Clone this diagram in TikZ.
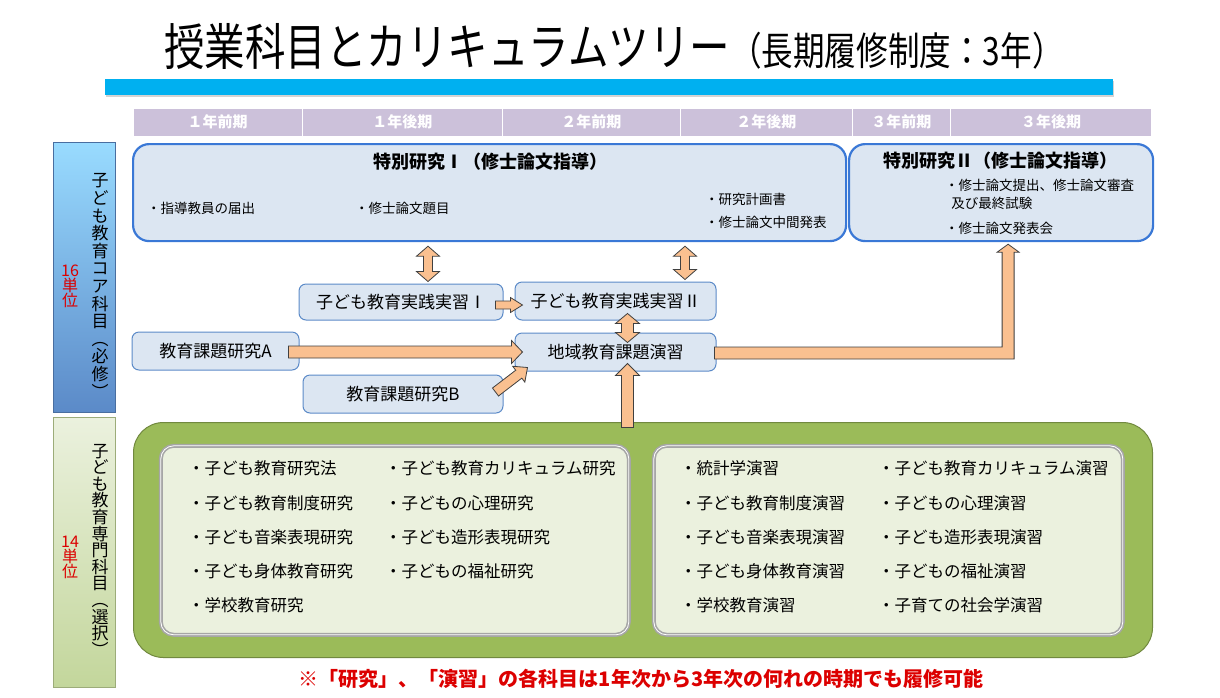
\documentclass[tikz,border=0pt]{standalone}
\usepackage{fontspec}
\usepackage{graphicx}
\setmainfont{Noto Sans CJK JP}
\usetikzlibrary{calc, shadows}

\definecolor{headfill}{HTML}{CCC1DA}
\definecolor{barblue}{HTML}{00B0F0}
\definecolor{boxfill}{HTML}{DCE6F2}
\definecolor{topline}{HTML}{3A78D6}
\definecolor{midline}{HTML}{5B8AC8}
\definecolor{arrowfill}{HTML}{FAC090}
\definecolor{greenfill}{HTML}{9BBB59}
\definecolor{greenline}{HTML}{71893F}
\definecolor{innerfill}{HTML}{EBF1DE}
\definecolor{innerline}{HTML}{A6A6A6}
\definecolor{notered}{HTML}{DC0000}

% fat block arrow: start, end, shaft half width, head half width, head length
\newcommand{\fatarrow}[5]{%
  \path #1 coordinate (fa_s) #2 coordinate (fa_e);
  \coordinate (fa_b) at ($(fa_e)!#5!(fa_s)$);
  \draw[fat] ($(fa_s)!#3!90:(fa_e)$) -- ($(fa_b)!#3!-90:(fa_s)$) -- ($(fa_b)!#4!-90:(fa_s)$)
    -- (fa_e) -- ($(fa_b)!#4!90:(fa_s)$) -- ($(fa_b)!#3!90:(fa_s)$) -- ($(fa_s)!#3!-90:(fa_e)$) -- cycle;
}
% same with a head at both ends
\newcommand{\fatdarrow}[5]{%
  \path #1 coordinate (fa_s) #2 coordinate (fa_e);
  \coordinate (fa_b) at ($(fa_e)!#5!(fa_s)$);
  \coordinate (fa_a) at ($(fa_s)!#5!(fa_e)$);
  \draw[fat] (fa_s) -- ($(fa_a)!#4!90:(fa_e)$) -- ($(fa_a)!#3!90:(fa_e)$) -- ($(fa_b)!#3!-90:(fa_s)$)
    -- ($(fa_b)!#4!-90:(fa_s)$) -- (fa_e) -- ($(fa_b)!#4!90:(fa_s)$) -- ($(fa_b)!#3!90:(fa_s)$)
    -- ($(fa_a)!#3!-90:(fa_e)$) -- ($(fa_a)!#4!-90:(fa_e)$) -- cycle;
}

\begin{document}
\begin{tikzpicture}[x=1pt, y=-1pt,
    title/.style={inner sep=0pt},
    bar/.style={fill=barblue, anchor=north west, inner sep=0pt, drop shadow={opacity=0.35, shadow xshift=1pt, shadow yshift=-2pt}},
    headcell/.style={fill=headfill, draw=white, line width=1.5pt, anchor=north west, inner sep=0pt, minimum height=29, font=\fontsize{15}{15}\selectfont\bfseries, text=white},
    corelabel/.style={draw=midline!80!black, anchor=north west, inner sep=0pt, top color=blue!35!cyan!40, bottom color=midline},
    senlabel/.style={draw=greenline!70, anchor=north west, inner sep=0pt, top color=innerfill, bottom color=greenfill!60},
    vtext/.style={align=center, inner sep=0pt, font=\fontsize{17}{17.6}\selectfont},
    unit/.style={align=center, inner sep=0pt, text=notered, font=\fontsize{16}{15}\selectfont},
    topbox/.style={fill=boxfill, draw=topline, line width=2.2pt, rounded corners=16pt, anchor=north west, inner sep=0pt},
    toptitle/.style={inner sep=0pt, font=\fontsize{18}{18}\selectfont\bfseries},
    topitem/.style={anchor=west, inner sep=0pt, align=left, font=\fontsize{13.5}{18}\selectfont},
    midbox/.style={fill=boxfill, draw=midline, line width=1pt, rounded corners=7pt, inner sep=0pt, font=\fontsize{17}{17}\selectfont},
    greenbox/.style={fill=greenfill, draw=greenline, line width=1pt, rounded corners=30pt, anchor=north west, inner sep=0pt},
    innerbox/.style={fill=innerfill, draw=innerline, double=white, double distance=0.8pt, line width=1.6pt, rounded corners=13pt, anchor=north west, inner sep=0pt},
    item/.style={anchor=west, inner sep=0pt, font=\fontsize{16.5}{16.5}\selectfont},
    fat/.style={fill=arrowfill, draw=black!75, line width=0.8pt, line join=miter},
    note/.style={inner sep=0pt, text=notered, font=\fontsize{20}{20}\selectfont\bfseries}
]
    \useasboundingbox (0,0) rectangle (1220,697);

    % ========== TITLE ==========
    \node[title] (title) at (614,46) {%
        {\fontsize{50}{50}\selectfont\scalebox{0.81}[1]{授業科目とカリキュラムツリー}}%
        {\fontsize{39}{39}\selectfont\scalebox{0.81}[1]{（長期履修制度：3年）}}};
    \node[bar, minimum width=1008, minimum height=16] (bar) at (105,79) {};

    % ========== TERMS ==========
    \node[headcell, minimum width=169.5] (term1) at (132,107) {１年前期};
    \node[headcell, minimum width=200] (term2) at (301.5,107) {１年後期};
    \node[headcell, minimum width=178] (term3) at (501.5,107) {２年前期};
    \node[headcell, minimum width=172] (term4) at (679.5,107) {２年後期};
    \node[headcell, minimum width=98] (term5) at (851.5,107) {３年前期};
    \node[headcell, minimum width=201.5] (term6) at (949.5,107) {３年後期};

    % ========== LEFT LABELS ==========
    \node[corelabel, minimum width=62, minimum height=270] (core) at (53,142) {};
    \node[vtext] (core_text) at (100,286) {子\\ど\\も\\教\\育\\コ\\ア\\科\\目\\︵\\必\\修\\︶};
    \node[unit] (core_unit) at (70,286) {16\\単\\位};

    \node[senlabel, minimum width=62, minimum height=270] (sen) at (53,417) {};
    \node[vtext, font=\fontsize{17}{16.6}\selectfont] (sen_text) at (100,550) {子\\ど\\も\\教\\育\\専\\門\\科\\目\\︵\\選\\択\\︶};
    \node[unit] (sen_unit) at (70,557) {14\\単\\位};

    % ========== SPECIAL RESEARCH ==========
    \node[topbox, minimum width=713, minimum height=97] (sk1) at (132,143) {};
    \node[toptitle] (sk1_title) at (490,162) {特別研究Ⅰ（修士論文指導）};
    \node[topitem] (sk1_a) at (147,208) {・指導教員の届出};
    \node[topitem] (sk1_b) at (355,208) {・修士論文題目};
    \node[topitem] (sk1_c) at (705,199) {・研究計画書};
    \node[topitem] (sk1_d) at (705,222) {・修士論文中間発表};

    \node[topbox, minimum width=304, minimum height=97] (sk2) at (848,143) {};
    \node[toptitle] (sk2_title) at (1000,161) {特別研究Ⅱ（修士論文指導）};
    \node[topitem, anchor=north west] (sk2_a) at (945,179) {・修士論文提出、修士論文審査\\\ \ 及び最終試験};
    \node[topitem] (sk2_b) at (945,228) {・修士論文発表会};

    % ========== CORE SUBJECTS ==========
    \node[midbox, minimum width=204, minimum height=36] (jissen1) at (401,302) {子ども教育実践実習Ⅰ};
    \node[midbox, minimum width=201, minimum height=38] (jissen2) at (615.5,301) {子ども教育実践実習Ⅱ};
    \node[midbox, minimum width=167, minimum height=38] (kadaiA) at (215.5,351) {教育課題研究A};
    \node[midbox, minimum width=201, minimum height=38] (chiiki) at (615.5,352) {地域教育課題演習};
    \node[midbox, minimum width=200, minimum height=38] (kadaiB) at (403,394) {教育課題研究B};

    % ========== ELECTIVE SUBJECTS ==========
    \node[greenbox, minimum width=1019, minimum height=235] (senmon) at (133,422) {};
    \node[innerbox, minimum width=468, minimum height=189] (kenkyu) at (160,445) {};
    \node[innerbox, minimum width=469, minimum height=189] (enshu) at (653,445) {};

    % research column
    \node[item] (k1) at (188,468) {・子ども教育研究法};
    \node[item] (k2) at (188,503) {・子ども教育制度研究};
    \node[item] (k3) at (188,537) {・子ども音楽表現研究};
    \node[item] (k4) at (188,571) {・子ども身体教育研究};
    \node[item] (k5) at (188,605) {・学校教育研究};
    \node[item] (k6) at (385,468) {・子ども教育カリキュラム研究};
    \node[item] (k7) at (385,503) {・子どもの心理研究};
    \node[item] (k8) at (385,537) {・子ども造形表現研究};
    \node[item] (k9) at (385,571) {・子どもの福祉研究};

    % seminar column
    \node[item] (e1) at (680,468) {・統計学演習};
    \node[item] (e2) at (680,503) {・子ども教育制度演習};
    \node[item] (e3) at (680,537) {・子ども音楽表現演習};
    \node[item] (e4) at (680,571) {・子ども身体教育演習};
    \node[item] (e5) at (680,605) {・学校教育演習};
    \node[item] (e6) at (878,468) {・子ども教育カリキュラム演習};
    \node[item] (e7) at (878,503) {・子どもの心理演習};
    \node[item] (e8) at (878,537) {・子ども造形表現演習};
    \node[item] (e9) at (878,571) {・子どもの福祉演習};
    \node[item] (e10) at (878,605) {・子育ての社会学演習};

    % ========== ARROWS ==========
    \fatdarrow{($(sk1.south -| jissen1.north)+(27,4)$)}{($(jissen1.north)+(27,-2)$)}{4.5pt}{11.5pt}{10pt}
    \fatdarrow{($(sk1.south -| jissen2.north)+(69.5,4)$)}{($(jissen2.north)+(69.5,-2)$)}{4.5pt}{11.5pt}{10pt}
    \fatarrow{($(jissen1.east)+(-8,3)$)}{($(jissen2.west)+(8,4)$)}{4pt}{7.5pt}{12pt}
    \fatdarrow{($(jissen2.south)+(12,-7)$)}{($(chiiki.north)+(12,10)$)}{6pt}{12pt}{10pt}
    \fatarrow{($(kadaiA.east)+(-11,1)$)}{($(chiiki.west)+(8,0)$)}{6pt}{11.5pt}{11pt}
    \fatarrow{($(kadaiB.east)+(-8,-2)$)}{($(chiiki.south west)+(13,-4)$)}{5pt}{10pt}{11pt}
    \fatarrow{($(chiiki.south)+(12,56)$)}{($(chiiki.south)+(12,-8)$)}{6pt}{12pt}{12pt}

    % elbow from the regional seminar up to Special Research II
    \coordinate (elb) at ($(sk2.south)+(7,0)$);
    \draw[fat] ($(chiiki.east)+(-2,-5)$) -- ($(chiiki.east -| elb)+(-6,-5)$) -- ($(elb)+(-6,10)$)
        -- ($(elb)+(-11,10)$) -- ($(elb)+(0,2)$) -- ($(elb)+(11,10)$) -- ($(elb)+(6,10)$)
        -- ($(chiiki.east -| elb)+(6,7)$) -- ($(chiiki.east)+(-2,7)$) -- cycle;

    % ========== NOTE ==========
    \node[note] (note) at (641,679) {※「研究」、「演習」の各科目は1年次から3年次の何れの時期でも履修可能};

\end{tikzpicture}
\end{document}
